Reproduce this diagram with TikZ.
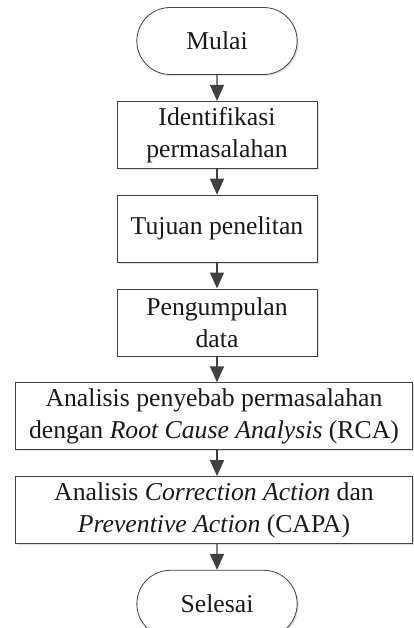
\documentclass[tikz,border=0pt]{standalone}
\usepackage{fontspec}
\setmainfont{Liberation Serif}
\usepackage{xcolor}
\usepackage{tikz}
\usetikzlibrary{shapes.misc,arrows.meta,positioning,shadows}

\begin{document}
\begin{tikzpicture}[
        x=1pt, y=1pt, node distance=26pt,
        every node/.style={font=\fontsize{25.7}{32}\selectfont, text=black!90},
        box shadow/.style={drop shadow={shadow xshift=1.5pt, shadow yshift=-1.5pt, fill=black!12, opacity=1}},
        terminal/.style={rounded rectangle, draw=black!75, line width=0.8pt, fill=white,
            minimum width=167pt, minimum height=67pt, box shadow},
        process/.style={rectangle, draw=black!75, line width=0.8pt, fill=white, align=center,
            minimum width=200pt, minimum height=67pt, inner xsep=2pt, box shadow},
        wideprocess/.style={process, minimum width=397pt},
        flow/.style={draw=black!75, line width=1.4pt, -{Triangle[length=16pt,width=14pt]}}]

    \clip (0,0) rectangle (414,-628);
    \useasboundingbox (0,0) rectangle (414,-628);

    \node[terminal] (mulai) at (217,-41) {Mulai};
    \node[process, below=of mulai] (identifikasi) {Identifikasi\\permasalahan};
    \node[process, below=of identifikasi] (tujuan) {Tujuan penelitan};
    \node[process, below=of tujuan] (pengumpulan) {Pengumpulan\\data};
    \node[wideprocess, below=of pengumpulan, xshift=-3pt] (rca)
        {Analisis penyebab permasalahan\\dengan \textit{Root Cause Analysis} (RCA)};
    \node[wideprocess, below=of rca] (capa)
        {Analisis \textit{Correction Action} dan\\\textit{Preventive Action} (CAPA)};
    \node[terminal, below=of capa, xshift=3pt] (selesai) {Selesai};

    % alur
    \draw[flow] (mulai) -- (identifikasi);
    \draw[flow] (identifikasi) -- (tujuan);
    \draw[flow] (tujuan) -- (pengumpulan);
    \draw[flow] (pengumpulan) -- (pengumpulan |- rca.north);
    \draw[flow] (rca.south -| pengumpulan) -- (pengumpulan |- capa.north);
    \draw[flow] (capa.south -| selesai) -- (selesai);
\end{tikzpicture}
\end{document}
